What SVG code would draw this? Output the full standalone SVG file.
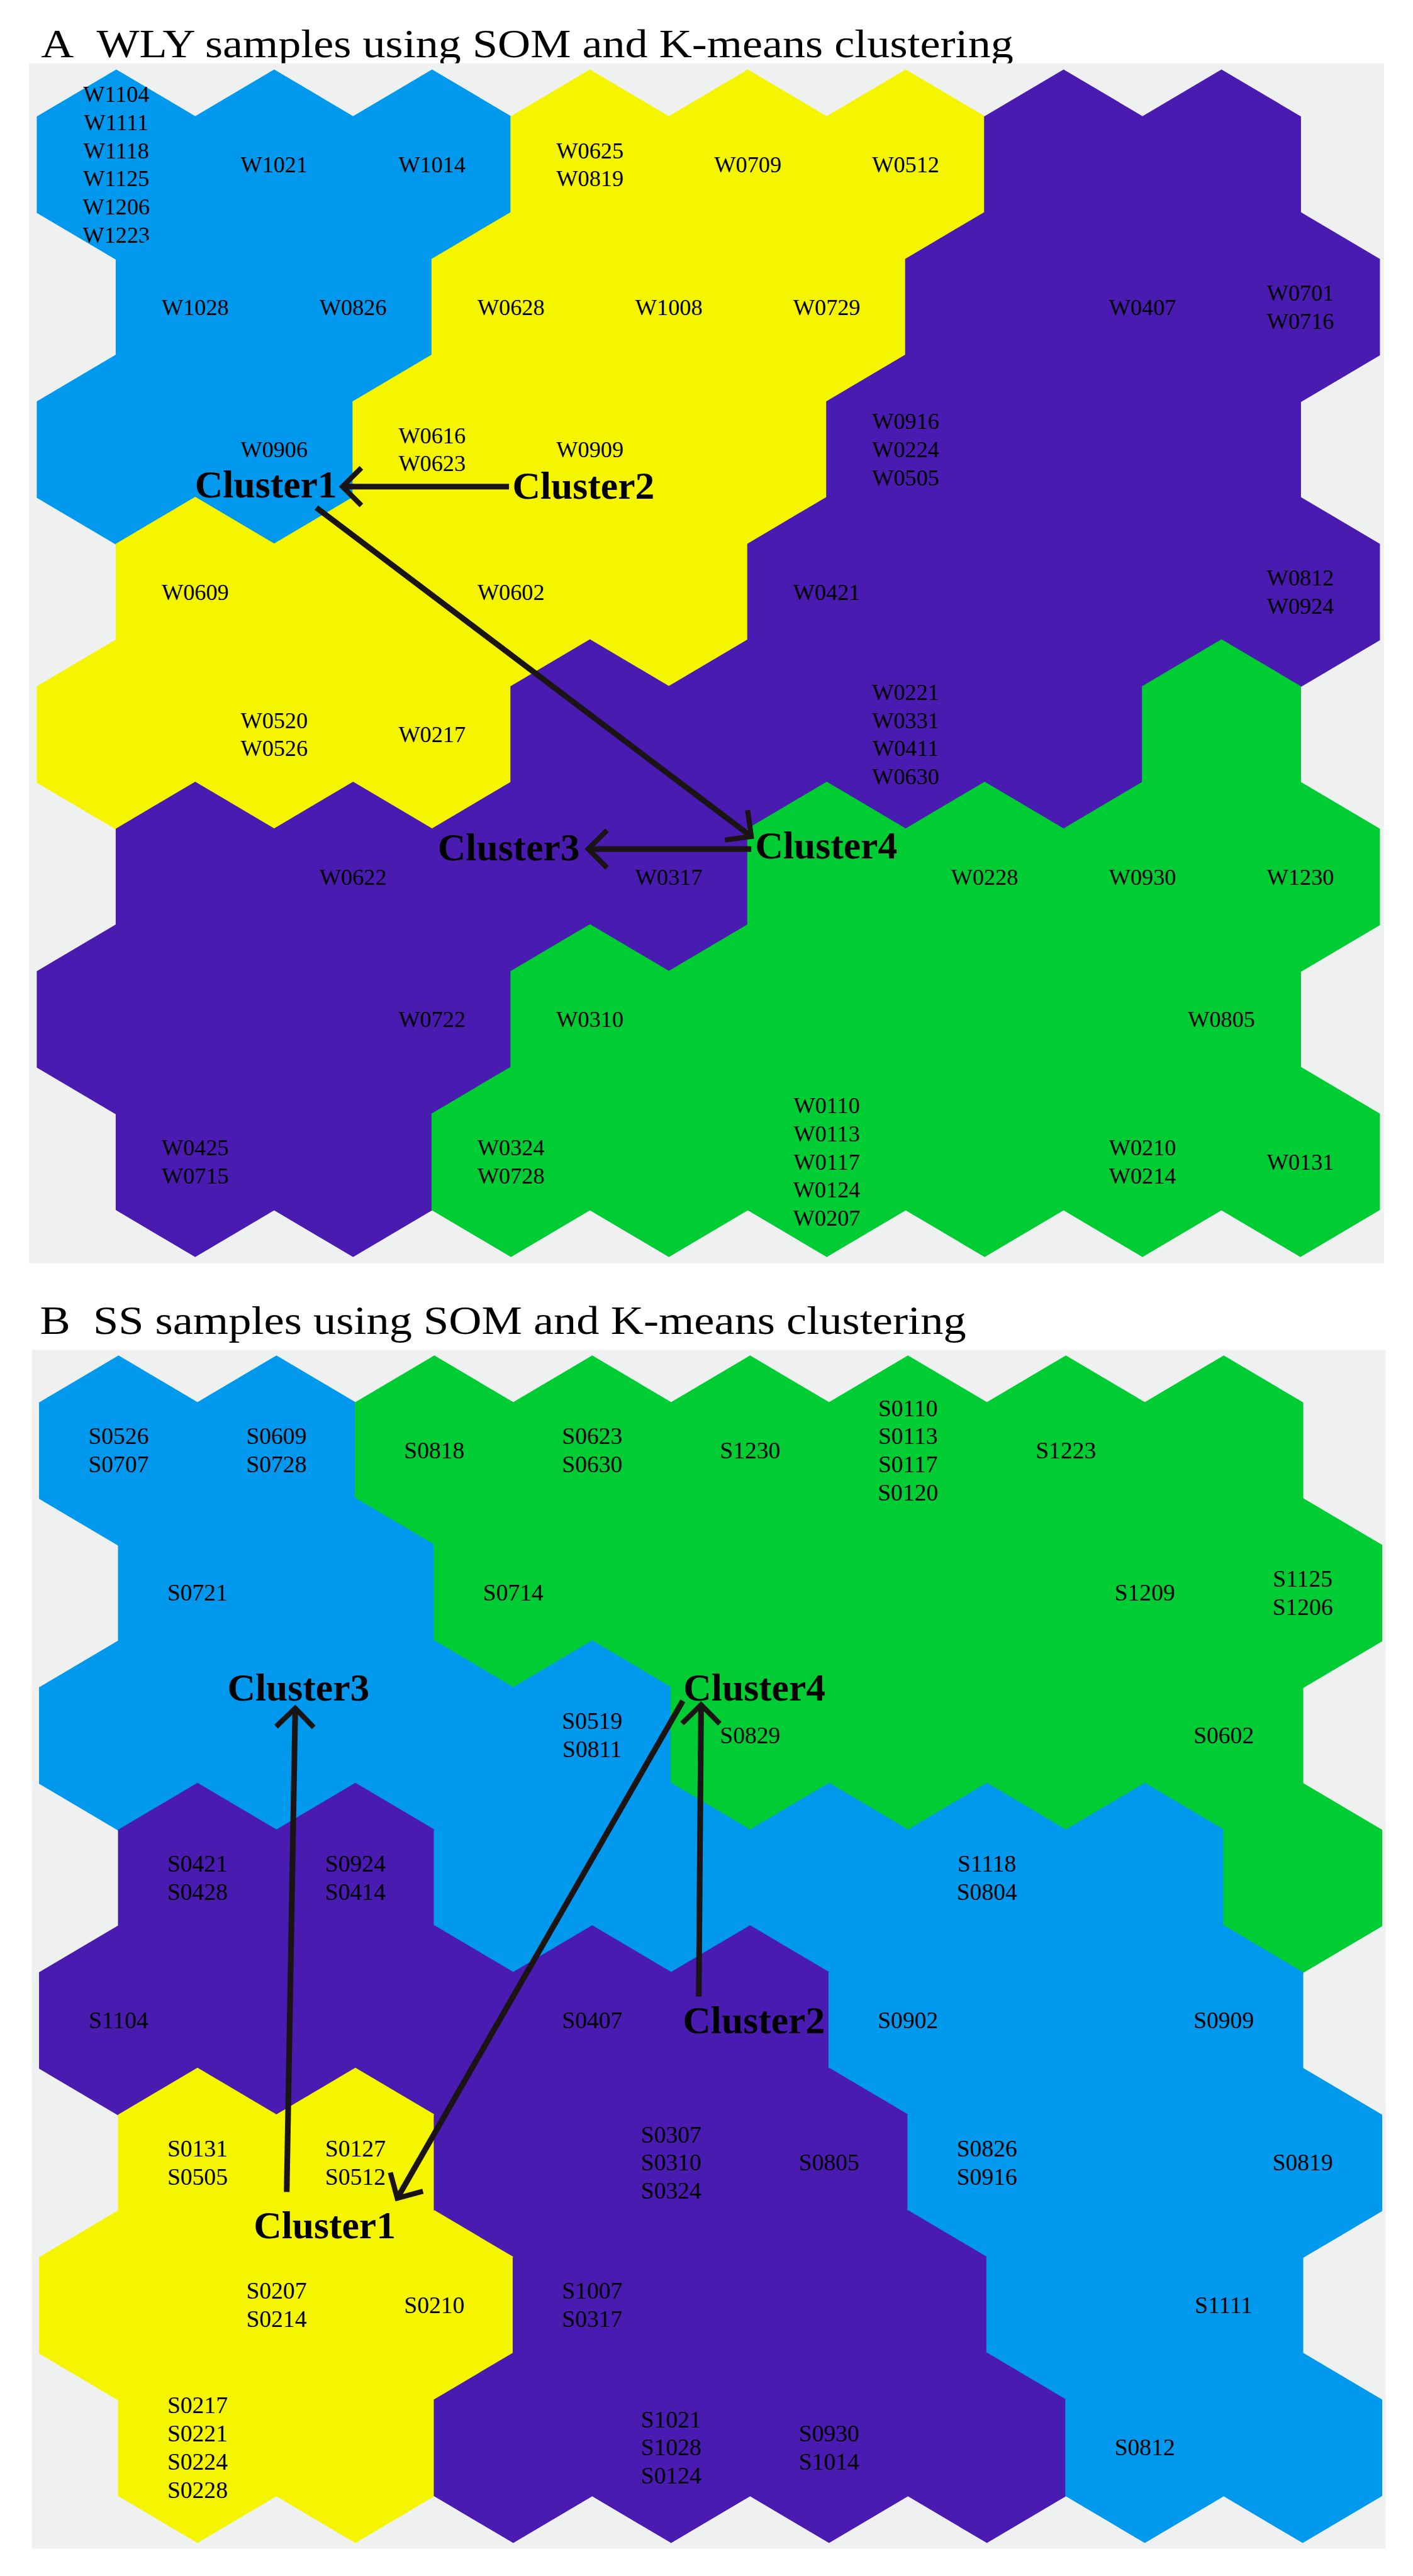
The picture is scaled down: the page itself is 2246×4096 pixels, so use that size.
<svg xmlns="http://www.w3.org/2000/svg" xmlns:xlink="http://www.w3.org/1999/xlink" width="2246" height="4096" viewBox="0 0 2246 4096">
<style>
.b{fill:#0099EE;stroke:#0099EE}
.y{fill:#F5F500;stroke:#F5F500}
.p{fill:#4A1BB1;stroke:#4A1BB1}
.g{fill:#00CC33;stroke:#00CC33}
.bg{fill:#EFF0F0}
.w{font-family:"Liberation Serif","Times New Roman",serif;font-size:40px;text-anchor:middle;fill:#000}
.s{font-family:"Liberation Serif","Times New Roman",serif;font-size:41.5px;text-anchor:middle;fill:#000}
.cl{font-family:"Liberation Serif","Times New Roman",serif;font-size:68px;font-weight:bold;fill:#000}
.ti{font-family:"Liberation Serif","Times New Roman",serif;font-size:70px;fill:#000}
.arr{fill:none;stroke:#1a1414;stroke-width:10;marker-end:url(#chev)}
</style>
<defs>
<polygon id="hx" points="0,-166 138.5,-84 138.5,84 0,166 -138.5,84 -138.5,-84" stroke-width="2"/>
<marker id="chev" markerUnits="userSpaceOnUse" markerWidth="10" markerHeight="10" refX="0" refY="0" orient="auto" overflow="visible">
<path d="M-33,-33 L0,0 L-33,33" fill="none" stroke="#1a1414" stroke-width="9"/>
</marker>
</defs>
<rect width="2246" height="4096" fill="#ffffff"/>
<g transform="scale(0.906)">
<text class="ti" x="72" y="100" textLength="1706" lengthAdjust="spacingAndGlyphs">A&#160;&#160;WLY samples using SOM and K-means clustering</text>
<rect class="bg" x="51" y="111" width="2377" height="2106"/>
<g id="panelA">
<g id="A-r0c0"><use xlink:href="#hx" x="204" y="289" class="b"/><text class="w"><tspan x="204" y="178.75">W1104</tspan><tspan x="204" y="228.25">W1111</tspan><tspan x="204" y="277.75">W1118</tspan><tspan x="204" y="327.25">W1125</tspan><tspan x="204" y="376.75">W1206</tspan><tspan x="204" y="426.25">W1223</tspan></text></g>
<g id="A-r0c1"><use xlink:href="#hx" x="481" y="289" class="b"/><text class="w" x="481" y="302.5">W1021</text></g>
<g id="A-r0c2"><use xlink:href="#hx" x="758" y="289" class="b"/><text class="w" x="758" y="302.5">W1014</text></g>
<g id="A-r0c3"><use xlink:href="#hx" x="1035" y="289" class="y"/><text class="w"><tspan x="1035" y="277.75">W0625</tspan><tspan x="1035" y="327.25">W0819</tspan></text></g>
<g id="A-r0c4"><use xlink:href="#hx" x="1312" y="289" class="y"/><text class="w" x="1312" y="302.5">W0709</text></g>
<g id="A-r0c5"><use xlink:href="#hx" x="1589" y="289" class="y"/><text class="w" x="1589" y="302.5">W0512</text></g>
<g id="A-r0c6"><use xlink:href="#hx" x="1866" y="289" class="p"/></g>
<g id="A-r0c7"><use xlink:href="#hx" x="2143" y="289" class="p"/></g>
<g id="A-r1c0"><use xlink:href="#hx" x="342.5" y="539" class="b"/><text class="w" x="342.5" y="552.5">W1028</text></g>
<g id="A-r1c1"><use xlink:href="#hx" x="619.5" y="539" class="b"/><text class="w" x="619.5" y="552.5">W0826</text></g>
<g id="A-r1c2"><use xlink:href="#hx" x="896.5" y="539" class="y"/><text class="w" x="896.5" y="552.5">W0628</text></g>
<g id="A-r1c3"><use xlink:href="#hx" x="1173.5" y="539" class="y"/><text class="w" x="1173.5" y="552.5">W1008</text></g>
<g id="A-r1c4"><use xlink:href="#hx" x="1450.5" y="539" class="y"/><text class="w" x="1450.5" y="552.5">W0729</text></g>
<g id="A-r1c5"><use xlink:href="#hx" x="1727.5" y="539" class="p"/></g>
<g id="A-r1c6"><use xlink:href="#hx" x="2004.5" y="539" class="p"/><text class="w" x="2004.5" y="552.5">W0407</text></g>
<g id="A-r1c7"><use xlink:href="#hx" x="2281.5" y="539" class="p"/><text class="w"><tspan x="2281.5" y="527.75">W0701</tspan><tspan x="2281.5" y="577.25">W0716</tspan></text></g>
<g id="A-r2c0"><use xlink:href="#hx" x="204" y="789" class="b"/></g>
<g id="A-r2c1"><use xlink:href="#hx" x="481" y="789" class="b"/><text class="w" x="481" y="802.5">W0906</text></g>
<g id="A-r2c2"><use xlink:href="#hx" x="758" y="789" class="y"/><text class="w"><tspan x="758" y="777.75">W0616</tspan><tspan x="758" y="827.25">W0623</tspan></text></g>
<g id="A-r2c3"><use xlink:href="#hx" x="1035" y="789" class="y"/><text class="w" x="1035" y="802.5">W0909</text></g>
<g id="A-r2c4"><use xlink:href="#hx" x="1312" y="789" class="y"/></g>
<g id="A-r2c5"><use xlink:href="#hx" x="1589" y="789" class="p"/><text class="w"><tspan x="1589" y="753">W0916</tspan><tspan x="1589" y="802.5">W0224</tspan><tspan x="1589" y="852">W0505</tspan></text></g>
<g id="A-r2c6"><use xlink:href="#hx" x="1866" y="789" class="p"/></g>
<g id="A-r2c7"><use xlink:href="#hx" x="2143" y="789" class="p"/></g>
<g id="A-r3c0"><use xlink:href="#hx" x="342.5" y="1039" class="y"/><text class="w" x="342.5" y="1052.5">W0609</text></g>
<g id="A-r3c1"><use xlink:href="#hx" x="619.5" y="1039" class="y"/></g>
<g id="A-r3c2"><use xlink:href="#hx" x="896.5" y="1039" class="y"/><text class="w" x="896.5" y="1052.5">W0602</text></g>
<g id="A-r3c3"><use xlink:href="#hx" x="1173.5" y="1039" class="y"/></g>
<g id="A-r3c4"><use xlink:href="#hx" x="1450.5" y="1039" class="p"/><text class="w" x="1450.5" y="1052.5">W0421</text></g>
<g id="A-r3c5"><use xlink:href="#hx" x="1727.5" y="1039" class="p"/></g>
<g id="A-r3c6"><use xlink:href="#hx" x="2004.5" y="1039" class="p"/></g>
<g id="A-r3c7"><use xlink:href="#hx" x="2281.5" y="1039" class="p"/><text class="w"><tspan x="2281.5" y="1027.75">W0812</tspan><tspan x="2281.5" y="1077.25">W0924</tspan></text></g>
<g id="A-r4c0"><use xlink:href="#hx" x="204" y="1289" class="y"/></g>
<g id="A-r4c1"><use xlink:href="#hx" x="481" y="1289" class="y"/><text class="w"><tspan x="481" y="1277.75">W0520</tspan><tspan x="481" y="1327.25">W0526</tspan></text></g>
<g id="A-r4c2"><use xlink:href="#hx" x="758" y="1289" class="y"/><text class="w" x="758" y="1302.5">W0217</text></g>
<g id="A-r4c3"><use xlink:href="#hx" x="1035" y="1289" class="p"/></g>
<g id="A-r4c4"><use xlink:href="#hx" x="1312" y="1289" class="p"/></g>
<g id="A-r4c5"><use xlink:href="#hx" x="1589" y="1289" class="p"/><text class="w"><tspan x="1589" y="1228.25">W0221</tspan><tspan x="1589" y="1277.75">W0331</tspan><tspan x="1589" y="1327.25">W0411</tspan><tspan x="1589" y="1376.75">W0630</tspan></text></g>
<g id="A-r4c6"><use xlink:href="#hx" x="1866" y="1289" class="p"/></g>
<g id="A-r4c7"><use xlink:href="#hx" x="2143" y="1289" class="g"/></g>
<g id="A-r5c0"><use xlink:href="#hx" x="342.5" y="1539" class="p"/></g>
<g id="A-r5c1"><use xlink:href="#hx" x="619.5" y="1539" class="p"/><text class="w" x="619.5" y="1552.5">W0622</text></g>
<g id="A-r5c2"><use xlink:href="#hx" x="896.5" y="1539" class="p"/></g>
<g id="A-r5c3"><use xlink:href="#hx" x="1173.5" y="1539" class="p"/><text class="w" x="1173.5" y="1552.5">W0317</text></g>
<g id="A-r5c4"><use xlink:href="#hx" x="1450.5" y="1539" class="g"/></g>
<g id="A-r5c5"><use xlink:href="#hx" x="1727.5" y="1539" class="g"/><text class="w" x="1727.5" y="1552.5">W0228</text></g>
<g id="A-r5c6"><use xlink:href="#hx" x="2004.5" y="1539" class="g"/><text class="w" x="2004.5" y="1552.5">W0930</text></g>
<g id="A-r5c7"><use xlink:href="#hx" x="2281.5" y="1539" class="g"/><text class="w" x="2281.5" y="1552.5">W1230</text></g>
<g id="A-r6c0"><use xlink:href="#hx" x="204" y="1789" class="p"/></g>
<g id="A-r6c1"><use xlink:href="#hx" x="481" y="1789" class="p"/></g>
<g id="A-r6c2"><use xlink:href="#hx" x="758" y="1789" class="p"/><text class="w" x="758" y="1802.5">W0722</text></g>
<g id="A-r6c3"><use xlink:href="#hx" x="1035" y="1789" class="g"/><text class="w" x="1035" y="1802.5">W0310</text></g>
<g id="A-r6c4"><use xlink:href="#hx" x="1312" y="1789" class="g"/></g>
<g id="A-r6c5"><use xlink:href="#hx" x="1589" y="1789" class="g"/></g>
<g id="A-r6c6"><use xlink:href="#hx" x="1866" y="1789" class="g"/></g>
<g id="A-r6c7"><use xlink:href="#hx" x="2143" y="1789" class="g"/><text class="w" x="2143" y="1802.5">W0805</text></g>
<g id="A-r7c0"><use xlink:href="#hx" x="342.5" y="2039" class="p"/><text class="w"><tspan x="342.5" y="2027.75">W0425</tspan><tspan x="342.5" y="2077.25">W0715</tspan></text></g>
<g id="A-r7c1"><use xlink:href="#hx" x="619.5" y="2039" class="p"/></g>
<g id="A-r7c2"><use xlink:href="#hx" x="896.5" y="2039" class="g"/><text class="w"><tspan x="896.5" y="2027.75">W0324</tspan><tspan x="896.5" y="2077.25">W0728</tspan></text></g>
<g id="A-r7c3"><use xlink:href="#hx" x="1173.5" y="2039" class="g"/></g>
<g id="A-r7c4"><use xlink:href="#hx" x="1450.5" y="2039" class="g"/><text class="w"><tspan x="1450.5" y="1953.5">W0110</tspan><tspan x="1450.5" y="2003">W0113</tspan><tspan x="1450.5" y="2052.5">W0117</tspan><tspan x="1450.5" y="2102">W0124</tspan><tspan x="1450.5" y="2151.5">W0207</tspan></text></g>
<g id="A-r7c5"><use xlink:href="#hx" x="1727.5" y="2039" class="g"/></g>
<g id="A-r7c6"><use xlink:href="#hx" x="2004.5" y="2039" class="g"/><text class="w"><tspan x="2004.5" y="2027.75">W0210</tspan><tspan x="2004.5" y="2077.25">W0214</tspan></text></g>
<g id="A-r7c7"><use xlink:href="#hx" x="2281.5" y="2039" class="g"/><text class="w" x="2281.5" y="2052.5">W0131</text></g>
</g>
<g id="A-clusters">
<g id="A-Cluster1"><text class="cl" x="342" y="873">Cluster1</text></g>
<g id="A-Cluster2"><text class="cl" x="899" y="875">Cluster2</text></g>
<g id="A-Cluster3"><text class="cl" x="768" y="1510">Cluster3</text></g>
<g id="A-Cluster4"><text class="cl" x="1325" y="1507">Cluster4</text></g>
</g>
<g id="A-connectors">
<path class="arr" d="M893,854 L601,854"/>
<path class="arr" d="M555,891 L1318,1468"/>
<path class="arr" d="M1318,1490 L1032,1490"/>
</g>

<text class="ti" x="70" y="2341" textLength="1625" lengthAdjust="spacingAndGlyphs">B&#160;&#160;SS samples using SOM and K-means clustering</text>
<rect class="bg" x="56" y="2369" width="2375" height="2104"/>
<g id="panelB">
<g id="B-r0c0"><use xlink:href="#hx" x="208" y="2546" class="b"/><text class="s"><tspan x="208" y="2534.75">S0526</tspan><tspan x="208" y="2584.25">S0707</tspan></text></g>
<g id="B-r0c1"><use xlink:href="#hx" x="485" y="2546" class="b"/><text class="s"><tspan x="485" y="2534.75">S0609</tspan><tspan x="485" y="2584.25">S0728</tspan></text></g>
<g id="B-r0c2"><use xlink:href="#hx" x="762" y="2546" class="g"/><text class="s" x="762" y="2559.5">S0818</text></g>
<g id="B-r0c3"><use xlink:href="#hx" x="1039" y="2546" class="g"/><text class="s"><tspan x="1039" y="2534.75">S0623</tspan><tspan x="1039" y="2584.25">S0630</tspan></text></g>
<g id="B-r0c4"><use xlink:href="#hx" x="1316" y="2546" class="g"/><text class="s" x="1316" y="2559.5">S1230</text></g>
<g id="B-r0c5"><use xlink:href="#hx" x="1593" y="2546" class="g"/><text class="s"><tspan x="1593" y="2485.25">S0110</tspan><tspan x="1593" y="2534.75">S0113</tspan><tspan x="1593" y="2584.25">S0117</tspan><tspan x="1593" y="2633.75">S0120</tspan></text></g>
<g id="B-r0c6"><use xlink:href="#hx" x="1870" y="2546" class="g"/><text class="s" x="1870" y="2559.5">S1223</text></g>
<g id="B-r0c7"><use xlink:href="#hx" x="2147" y="2546" class="g"/></g>
<g id="B-r1c0"><use xlink:href="#hx" x="346.5" y="2796" class="b"/><text class="s" x="346.5" y="2809.5">S0721</text></g>
<g id="B-r1c1"><use xlink:href="#hx" x="623.5" y="2796" class="b"/></g>
<g id="B-r1c2"><use xlink:href="#hx" x="900.5" y="2796" class="g"/><text class="s" x="900.5" y="2809.5">S0714</text></g>
<g id="B-r1c3"><use xlink:href="#hx" x="1177.5" y="2796" class="g"/></g>
<g id="B-r1c4"><use xlink:href="#hx" x="1454.5" y="2796" class="g"/></g>
<g id="B-r1c5"><use xlink:href="#hx" x="1731.5" y="2796" class="g"/></g>
<g id="B-r1c6"><use xlink:href="#hx" x="2008.5" y="2796" class="g"/><text class="s" x="2008.5" y="2809.5">S1209</text></g>
<g id="B-r1c7"><use xlink:href="#hx" x="2285.5" y="2796" class="g"/><text class="s"><tspan x="2285.5" y="2784.75">S1125</tspan><tspan x="2285.5" y="2834.25">S1206</tspan></text></g>
<g id="B-r2c0"><use xlink:href="#hx" x="208" y="3046" class="b"/></g>
<g id="B-r2c1"><use xlink:href="#hx" x="485" y="3046" class="b"/></g>
<g id="B-r2c2"><use xlink:href="#hx" x="762" y="3046" class="b"/></g>
<g id="B-r2c3"><use xlink:href="#hx" x="1039" y="3046" class="b"/><text class="s"><tspan x="1039" y="3034.75">S0519</tspan><tspan x="1039" y="3084.25">S0811</tspan></text></g>
<g id="B-r2c4"><use xlink:href="#hx" x="1316" y="3046" class="g"/><text class="s" x="1316" y="3059.5">S0829</text></g>
<g id="B-r2c5"><use xlink:href="#hx" x="1593" y="3046" class="g"/></g>
<g id="B-r2c6"><use xlink:href="#hx" x="1870" y="3046" class="g"/></g>
<g id="B-r2c7"><use xlink:href="#hx" x="2147" y="3046" class="g"/><text class="s" x="2147" y="3059.5">S0602</text></g>
<g id="B-r3c0"><use xlink:href="#hx" x="346.5" y="3296" class="p"/><text class="s"><tspan x="346.5" y="3284.75">S0421</tspan><tspan x="346.5" y="3334.25">S0428</tspan></text></g>
<g id="B-r3c1"><use xlink:href="#hx" x="623.5" y="3296" class="p"/><text class="s"><tspan x="623.5" y="3284.75">S0924</tspan><tspan x="623.5" y="3334.25">S0414</tspan></text></g>
<g id="B-r3c2"><use xlink:href="#hx" x="900.5" y="3296" class="b"/></g>
<g id="B-r3c3"><use xlink:href="#hx" x="1177.5" y="3296" class="b"/></g>
<g id="B-r3c4"><use xlink:href="#hx" x="1454.5" y="3296" class="b"/></g>
<g id="B-r3c5"><use xlink:href="#hx" x="1731.5" y="3296" class="b"/><text class="s"><tspan x="1731.5" y="3284.75">S1118</tspan><tspan x="1731.5" y="3334.25">S0804</tspan></text></g>
<g id="B-r3c6"><use xlink:href="#hx" x="2008.5" y="3296" class="b"/></g>
<g id="B-r3c7"><use xlink:href="#hx" x="2285.5" y="3296" class="g"/></g>
<g id="B-r4c0"><use xlink:href="#hx" x="208" y="3546" class="p"/><text class="s" x="208" y="3559.5">S1104</text></g>
<g id="B-r4c1"><use xlink:href="#hx" x="485" y="3546" class="p"/></g>
<g id="B-r4c2"><use xlink:href="#hx" x="762" y="3546" class="p"/></g>
<g id="B-r4c3"><use xlink:href="#hx" x="1039" y="3546" class="p"/><text class="s" x="1039" y="3559.5">S0407</text></g>
<g id="B-r4c4"><use xlink:href="#hx" x="1316" y="3546" class="p"/></g>
<g id="B-r4c5"><use xlink:href="#hx" x="1593" y="3546" class="b"/><text class="s" x="1593" y="3559.5">S0902</text></g>
<g id="B-r4c6"><use xlink:href="#hx" x="1870" y="3546" class="b"/></g>
<g id="B-r4c7"><use xlink:href="#hx" x="2147" y="3546" class="b"/><text class="s" x="2147" y="3559.5">S0909</text></g>
<g id="B-r5c0"><use xlink:href="#hx" x="346.5" y="3796" class="y"/><text class="s"><tspan x="346.5" y="3784.75">S0131</tspan><tspan x="346.5" y="3834.25">S0505</tspan></text></g>
<g id="B-r5c1"><use xlink:href="#hx" x="623.5" y="3796" class="y"/><text class="s"><tspan x="623.5" y="3784.75">S0127</tspan><tspan x="623.5" y="3834.25">S0512</tspan></text></g>
<g id="B-r5c2"><use xlink:href="#hx" x="900.5" y="3796" class="p"/></g>
<g id="B-r5c3"><use xlink:href="#hx" x="1177.5" y="3796" class="p"/><text class="s"><tspan x="1177.5" y="3760">S0307</tspan><tspan x="1177.5" y="3809.5">S0310</tspan><tspan x="1177.5" y="3859">S0324</tspan></text></g>
<g id="B-r5c4"><use xlink:href="#hx" x="1454.5" y="3796" class="p"/><text class="s" x="1454.5" y="3809.5">S0805</text></g>
<g id="B-r5c5"><use xlink:href="#hx" x="1731.5" y="3796" class="b"/><text class="s"><tspan x="1731.5" y="3784.75">S0826</tspan><tspan x="1731.5" y="3834.25">S0916</tspan></text></g>
<g id="B-r5c6"><use xlink:href="#hx" x="2008.5" y="3796" class="b"/></g>
<g id="B-r5c7"><use xlink:href="#hx" x="2285.5" y="3796" class="b"/><text class="s" x="2285.5" y="3809.5">S0819</text></g>
<g id="B-r6c0"><use xlink:href="#hx" x="208" y="4046" class="y"/></g>
<g id="B-r6c1"><use xlink:href="#hx" x="485" y="4046" class="y"/><text class="s"><tspan x="485" y="4034.75">S0207</tspan><tspan x="485" y="4084.25">S0214</tspan></text></g>
<g id="B-r6c2"><use xlink:href="#hx" x="762" y="4046" class="y"/><text class="s" x="762" y="4059.5">S0210</text></g>
<g id="B-r6c3"><use xlink:href="#hx" x="1039" y="4046" class="p"/><text class="s"><tspan x="1039" y="4034.75">S1007</tspan><tspan x="1039" y="4084.25">S0317</tspan></text></g>
<g id="B-r6c4"><use xlink:href="#hx" x="1316" y="4046" class="p"/></g>
<g id="B-r6c5"><use xlink:href="#hx" x="1593" y="4046" class="p"/></g>
<g id="B-r6c6"><use xlink:href="#hx" x="1870" y="4046" class="b"/></g>
<g id="B-r6c7"><use xlink:href="#hx" x="2147" y="4046" class="b"/><text class="s" x="2147" y="4059.5">S1111</text></g>
<g id="B-r7c0"><use xlink:href="#hx" x="346.5" y="4296" class="y"/><text class="s"><tspan x="346.5" y="4235.25">S0217</tspan><tspan x="346.5" y="4284.75">S0221</tspan><tspan x="346.5" y="4334.25">S0224</tspan><tspan x="346.5" y="4383.75">S0228</tspan></text></g>
<g id="B-r7c1"><use xlink:href="#hx" x="623.5" y="4296" class="y"/></g>
<g id="B-r7c2"><use xlink:href="#hx" x="900.5" y="4296" class="p"/></g>
<g id="B-r7c3"><use xlink:href="#hx" x="1177.5" y="4296" class="p"/><text class="s"><tspan x="1177.5" y="4260">S1021</tspan><tspan x="1177.5" y="4309.5">S1028</tspan><tspan x="1177.5" y="4359">S0124</tspan></text></g>
<g id="B-r7c4"><use xlink:href="#hx" x="1454.5" y="4296" class="p"/><text class="s"><tspan x="1454.5" y="4284.75">S0930</tspan><tspan x="1454.5" y="4334.25">S1014</tspan></text></g>
<g id="B-r7c5"><use xlink:href="#hx" x="1731.5" y="4296" class="p"/></g>
<g id="B-r7c6"><use xlink:href="#hx" x="2008.5" y="4296" class="b"/><text class="s" x="2008.5" y="4309.5">S0812</text></g>
<g id="B-r7c7"><use xlink:href="#hx" x="2285.5" y="4296" class="b"/></g>
</g>
<g id="B-clusters">
<g id="B-Cluster3"><text class="cl" x="399" y="2985">Cluster3</text></g>
<g id="B-Cluster4"><text class="cl" x="1199" y="2985">Cluster4</text></g>
<g id="B-Cluster2"><text class="cl" x="1198" y="3568">Cluster2</text></g>
<g id="B-Cluster1"><text class="cl" x="445" y="3928">Cluster1</text></g>
</g>
<g id="B-connectors">
<path class="arr" d="M503,3847 L518,2998"/>
<path class="arr" d="M1198,2985 L697,3858"/>
<path class="arr" d="M1226,3504 L1230,2992"/>
</g>
</g>
</svg>
